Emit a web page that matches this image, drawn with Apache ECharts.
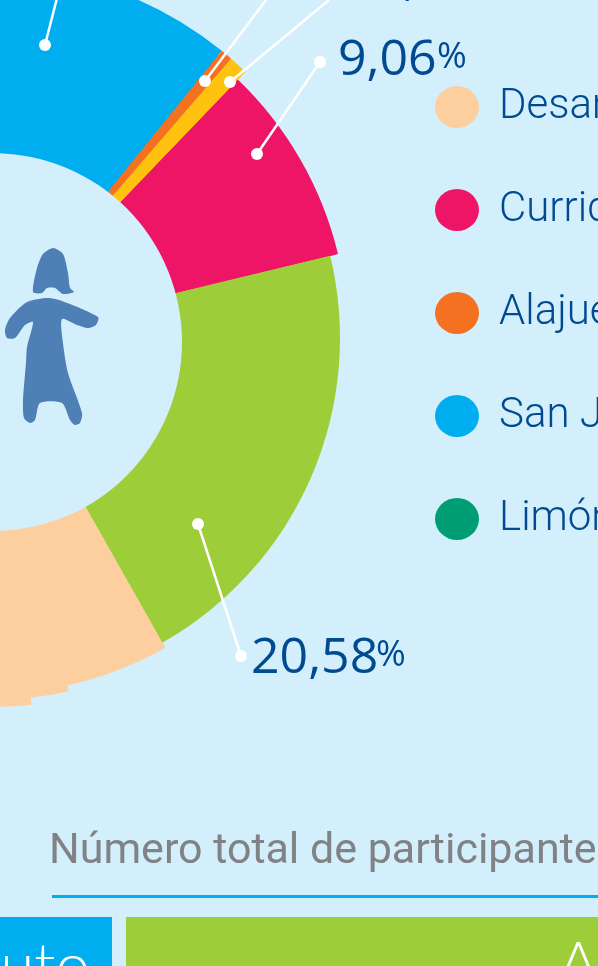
<!DOCTYPE html>
<html>
<head>
<meta charset="utf-8">
<style>
  html, body { margin: 0; padding: 0; background: #d3effc; overflow: hidden; }
  #chart { width: 598px; height: 966px; }
</style>
<script src="https://cdn.jsdelivr.net/npm/echarts@6/dist/echarts.min.js"></script>
</head>
<body>
<div id="chart"></div>
<script>
// slices in clockwise order, starting from the pink one.
const categories = ["Curridabat", "Heredia", "Desamparados", "Desamparados", "Desamparados", "Limón", "San José", "Alajuela", "Cartago"];
const values = [9.06, 20.58, 4.7, 1.7, 15.3, 14, 33.3, 0.53, 0.83];
const colors = ["#ef1566", "#9ecd3a", "#fdcf9f", "#fdcf9f", "#fdcf9f", "#009e75", "#00aeef", "#f57122", "#ffc20e"];

const legendNames = ["Desamparados", "Curridabat", "Alajuela", "San José", "Limón"];
const legendColors = ["#fdcf9f", "#ef1566", "#f57122", "#00aeef", "#009e75"];

// the ring is hand drawn in the original, the outer edge is not one circle
const sliceReach = [358, 350, 356, 362, 369, 369, 369, 369, 369];
const ringRadii = [350, 356, 358, 362, 369];

const BG = "#d3effc";
const BLUE_TEXT = "#004a92";
const NUM_FONT = '"Open Sans", sans-serif';
const FONT = 'Roboto, sans-serif';
const BOX_FONT = 'Lato, sans-serif';

// one pie per radius, big ones first so smaller rings paint on top without seams
function ring(outer) {
  return {
    type: "pie",
    silent: true,
    center: [-10, 338],
    radius: [150, outer],
    startAngle: 46.2,
    z: 2,
    label: { show: false },
    labelLine: { show: false },
    data: categories.map((name, i) => ({
      name: name,
      value: values[i],
      itemStyle: { color: sliceReach[i] >= outer ? colors[i] : "transparent" },
    })),
  };
}

function leader(x1, y1, x2, y2) {
  return { type: "line", z: 10, shape: { x1, y1, x2, y2 }, style: { stroke: "#fff", lineWidth: 2.5 } };
}
function dot(x, y) {
  return { type: "circle", z: 10, shape: { cx: x, cy: y, r: 6 }, style: { fill: "#fff" } };
}
function num(x, y, text) {
  return { type: "text", z: 10, x: x, y: y, style: { text: text, font: "400 50px " + NUM_FONT, fill: BLUE_TEXT } };
}
function sign(x, y) {
  return { type: "text", z: 10, x: x, y: y, style: { text: "%", font: "400 36px " + NUM_FONT, fill: BLUE_TEXT } };
}

const hair = [[33,292],[37,268],[43,254],[53,248],[63,254],[68,273],[70,288],[74,292],[63,294],[55,288],[47,288],[42,293]];
const body = [[48,298],[62,301],[98,317],[96,325],[88,328],[77,325],[62,319],[63,343],[68,373],[82,413],[80,423],[75,425],[70,420],[62,403],[40,403],[35,420],[30,423],[24,418],[23,400],[26,363],[27,347],[33,322],[25,325],[15,338],[7,338],[5,330],[10,318],[27,302]];

const chart = echarts.init(document.getElementById("chart"));
chart.setOption({
  backgroundColor: BG,
  animation: false,
  legend: {
    orient: "vertical",
    left: 430,
    top: 81,
    itemWidth: 44,
    itemHeight: 42,
    itemGap: 61,
    icon: "path://M0 21A22 21 0 1 1 44 21A22 21 0 1 1 0 21Z",
    selectedMode: false,
    textStyle: { fontFamily: FONT, fontWeight: 300, fontSize: 42, color: BLUE_TEXT, lineHeight: 42, padding: [0, 0, 0, 15] },
    data: legendNames.map((name, i) => ({ name: name, itemStyle: { color: legendColors[i] } })),
  },
  series: ringRadii.slice().reverse().map(ring),
  graphic: [
    { type: "circle", z: 5, shape: { cx: -7, cy: 342, r: 189 }, style: { fill: BG } },
    leader(45, 45, 57, -2), dot(45, 45),
    leader(205, 81, 266, 0), dot(205, 81),
    leader(230, 82, 329, 0), dot(230, 82),
    leader(257, 154, 320, 62), dot(257, 154), dot(320, 62),
    leader(198, 524, 241, 656), dot(198, 524), dot(241, 656),
    num(375, -44, "0,77"),
    num(338, 36, "9,06"), sign(437, 40),
    num(251, 634, "20,58"), sign(376, 638),
    { type: "polygon", z: 6, shape: { points: hair, smooth: 0.25 }, style: { fill: "#4e80b5" } },
    { type: "polygon", z: 6, shape: { points: body, smooth: 0.25 }, style: { fill: "#4e80b5" } },
    { type: "text", x: 49, y: 831, style: { text: "Número total de participantes", font: "400 43px " + FONT, fill: "#808285" } },
    { type: "rect", shape: { x: 52, y: 895, width: 560, height: 3 }, style: { fill: "#00aeef" } },
    { type: "rect", shape: { x: 0, y: 917, width: 112, height: 60 }, style: { fill: "#00aeef" } },
    { type: "rect", shape: { x: 126, y: 917, width: 480, height: 60 }, style: { fill: "#9ecd3a" } },
    { type: "text", x: 90, y: 936, style: { text: "Instituto", align: "right", font: "300 62px " + BOX_FONT, fill: "#fff" } },
    { type: "text", x: 558, y: 934, style: { text: "Año", font: "300 62px " + BOX_FONT, fill: "#fff" } },
  ],
});
</script>
</body>
</html>
